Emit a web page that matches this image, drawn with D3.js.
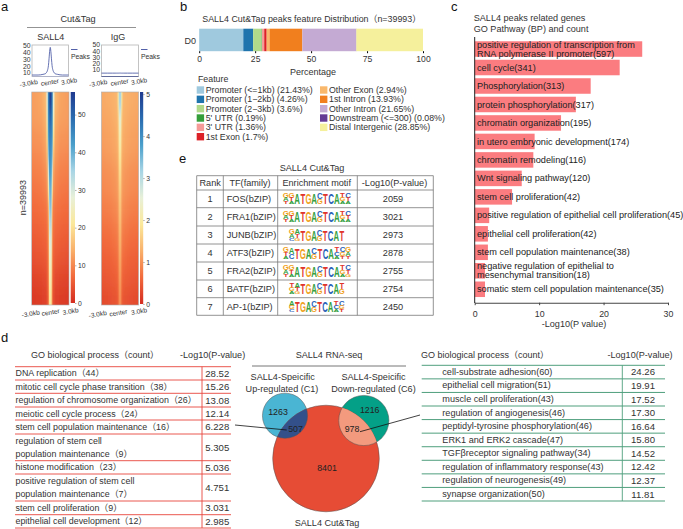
<!DOCTYPE html>
<html><head><meta charset="utf-8">
<script src="https://cdn.jsdelivr.net/npm/d3@7"></script>
<style>
html,body{margin:0;padding:0;background:#fff}
svg{display:block}
text{font-family:"Liberation Sans","Noto Sans CJK SC",sans-serif;fill:#333}
</style></head><body>
<svg id="c" width="683" height="529"></svg>
<script>
// ---------- panel a data
const heatKb = [3, 1.5, 0.8, 0.5, 0.3, 0.15, 0];
const sall4Heat = [
 [12,13,15,28,46,52,56],[12,12.5,14,25,44,48,50],[11,11.5,13,20,42,46,46],[10,10.5,12,16,38,44,44],
 [9,9.5,10.5,13,30,42,42],[8,8.5,9.5,11,22,38,40],[7,7.5,8,9,15,35,38],[6,6.5,7,8,13,31,33],
 [5,5.5,6,7,12,28,29],[4,4.5,5,6,11,25,26],[2.5,3,3.5,5,10,23,24],[1.5,2,2.5,4,9,20,22]];
const iggHeat = [
 [1.2,1.25,1.3,1.35,1.8,2.9,3.3],[1.15,1.2,1.25,1.3,1.5,2.3,2.6],[1.1,1.15,1.2,1.25,1.4,2,2.2],[1.05,1.1,1.15,1.2,1.3,1.8,2],
 [.95,1,1.05,1.1,1.2,1.65,1.8],[.9,.95,1,1.05,1.15,1.5,1.65],[.8,.85,.9,.95,1.05,1.4,1.5],[.7,.75,.8,.85,.95,1.3,1.4],
 [.6,.65,.7,.75,.85,1.2,1.3],[.5,.55,.6,.65,.75,1.1,1.2],[.42,.47,.5,.55,.65,1,1.1],[.32,.37,.4,.45,.55,.9,1]];
const heatColors = ["#d42c20","#f26a3c","#f9b06a","#fbe89a","#e8f0d8","#a8d5e5","#4a9fcb","#2a6cb0","#1f3a8f"];
const profileKb = [-3,-2,-1.2,-.8,-.6,-.45,-.3,-.2,-.1,0,.1,.2,.3,.45,.6,.8,1.2,2,3];
const sall4Profile = [7,7,8,9,11,14,21,31,42,48,42,31,21,14,11,9,8,7,7];
const iggProfile = [5,5,5,5,5,5,5,5,5,5.5,5,5,5,5,5,5,5,5,5];
const profileTicks = [10,20,30,40,50];
const sall4BarTicks = [0,10,20,30,40,50];
const iggBarTicks = [0,1,2,3,4,5];
// ---------- panel b data
const featureNames = ["Promoter (<=1kb) (21.43%)","Promoter (1−2kb) (4.26%)","Promoter (2−3kb) (3.6%)","5' UTR (0.19%)","3' UTR (1.36%)","1st Exon (1.7%)","Other Exon (2.94%)","1st Intron (13.93%)","Other Intron (21.65%)","Downstream (<=300) (0.08%)","Distal Intergenic (28.85%)"];
const featureDrawn = [19.7,4.4,3.8,0.15,1.0,1.1,1.25,14.7,24,0.1,29.8];
const featureColors = ["#9fc9de","#1f74ad","#b0d98a","#349e3a","#f59b98","#dc2127","#f9b86c","#f17f1e","#c4aad3","#653a94","#f5f09c"];
const pctTicks = [0,25,50,75,100];
// ---------- panel c data
const goNames = [["positive regulation of transcription from","RNA polymerase II promoter(597)"],["cell cycle(341)"],["Phosphorylation(313)"],["protein phosphorylation(317)"],["chromatin organization(195)"],["in utero embryonic development(174)"],["chromatin remodeling(116)"],["Wnt signaling pathway(120)"],["stem cell proliferation(42)"],["positive regulation of epithelial cell proliferation(45)"],["epithelial cell proliferation(42)"],["stem cell population maintenance(38)"],["negative regulation of epithelial to","mesenchymal transition(18)"],["somatic stem cell population maintenance(35)"]];
const goP = [26,22.5,18,15.7,13.4,9.3,9.1,7.3,5.8,2.25,2.05,2.05,1.6,1.6];
const goTicks = [0,10,20,30];
// ---------- panel d data
const upTerms = [["DNA replication（44）"],["mitotic cell cycle phase transition（38）"],["regulation of chromosome organization（26）"],["meiotic cell cycle process（24）"],["stem cell population maintenance（16）"],["regulation of stem cell","population maintenance（9）"],["histone modification（23）"],["positive regulation of stem cell","population maintenance（7）"],["stem cell proliferation（9）"],["epithelial cell development（12）"]];
const upVals = ["28.52","15.26","13.08","12.14","6.228","5.305","5.036","4.751","3.031","2.985"];
const downTerms = ["cell-substrate adhesion(60)","epithelial cell migration(51)","muscle cell proliferation(43)","regulation of angiogenesis(46)","peptidyl-tyrosine phosphorylation(46)","ERK1 and ERK2 cascade(47)","TGFβreceptor signaling pathway(34)","regulation of inflammatory response(43)","regulation of neurogenesis(49)","synapse organization(50)"];
const downVals = ["24.26","19.91","17.52","17.30","16.64","15.80","14.52","12.42","12.37","11.81"];
const vennCounts = {upOnly:1263, upShared:507, downOnly:1216, downShared:978, tagOnly:8401};
// ---------- panel e data
const tfRank = [1,2,3,4,5,6,7];
const tfNames = ["FOS(bZIP)","FRA1(bZIP)","JUNB(bZIP)","ATF3(bZIP)","FRA2(bZIP)","BATF(bZIP)","AP-1(bZIP)"];
const tfP = [2059,3021,2973,2878,2755,2754,2450];
const tfMotifs = [
 ["GAT","GTA","A","T","G","A","CG","T","C","A","TGA","CTA"],
 ["GAT","GTA","A","T","G","A","CG","T","C","A","TGA","CTA"],
 ["GAC","ATG","T","G","A","CG","T","C","A","T"],
 ["GTA","AC","T","G","A","CG","T","C","A","TCA","CGT","GAT"],
 ["GAT","GTA","A","T","G","A","CG","T","C","A","TGA","CTG"],
 ["TGA","ATG","T","G","A","CG","T","C","A","TG"],
 ["AGC","T","G","A","CG","T","C","A","TCA","CGT"]];
const baseColors = {A:"#35a041",C:"#2a62b8",G:"#f0a21e",T:"#e0352b"};

const svg = d3.select("#c"), defs = svg.append("defs");
function label(s,x,y,size,opts={}){
  const t = s.append("text").attr("x",x).attr("y",y).attr("font-size",size).text(opts.text);
  if(opts.anchor) t.attr("text-anchor",opts.anchor);
  if(opts.rotate!==undefined) t.attr("transform",`rotate(${opts.rotate},${x},${y})`);
  if(opts.fill) t.style("fill",opts.fill);
  if(opts.weight) t.attr("font-weight",opts.weight);
  return t;
}
const letters = [["a",1,11],["b",180,11],["c",451,11],["d",1,342],["e",179,163]];
letters.forEach(l=>label(svg,l[1],l[2],13,{text:l[0],fill:"#111"}));

// ========== PANEL A
label(svg,78,22,9.2,{text:"Cut&Tag",anchor:"middle"});
svg.append("line").attr("x1",27).attr("x2",136).attr("y1",27.5).attr("y2",27.5).attr("stroke","#777").attr("stroke-width",.8);
label(svg,50.7,40,9,{text:"SALL4",anchor:"middle"});
label(svg,118,40,9,{text:"IgG",anchor:"middle"});
label(svg,26,197.7,9,{text:"n=39993",anchor:"middle",rotate:-90});

function profile(x0,x1,vals,y10,y50){
  const g = svg.append("g");
  const xS = d3.scaleLinear().domain([-3,3]).range([x0,x1]);
  const yS = d3.scaleLinear().domain([10,50]).range([y10,y50]);
  g.append("rect").attr("x",x0).attr("y",45).attr("width",x1-x0).attr("height",31.5).attr("fill","#fff").attr("stroke","#b5b5b5").attr("stroke-width",.8);
  g.append("path").datum(vals).attr("fill","none").attr("stroke","#3f4f9f").attr("stroke-width",.8)
    .attr("d",d3.line().x((d,i)=>xS(profileKb[i])).y(d=>yS(d)).curve(d3.curveMonotoneX));
  g.append("line").attr("x1",x0).attr("x2",x1).attr("y1",76.5).attr("y2",76.5).attr("stroke",x0>100?"#4a5590":"#a9aec9").attr("stroke-width",.8);
  profileTicks.forEach(t=>label(g,x0-1.5,yS(t)+2.4,6.8,{text:t,anchor:"end"}));
  g.append("line").attr("x1",x1+2.5).attr("x2",x1+9).attr("y1",49.5).attr("y2",49.5).attr("stroke","#3f4f9f").attr("stroke-width",.9);
  label(g,x1+2.5,58.5,6.8,{text:"Peaks"});
  [["-3.0kb",x0-3,85.5],["center",(x0+x1)/2,84.5],["3.0kb",x1+1,83.5]].forEach(l=>label(g,l[1],l[2],6.6,{text:l[0],anchor:"middle",rotate:-10}));
}
profile(32,68.5,sall4Profile,73,46);
profile(101.5,138.5,iggProfile,70,45);

const blur = defs.append("filter").attr("id","vblur").attr("x","-5%").attr("width","110%").attr("y","-20%").attr("height","140%");
blur.append("feGaussianBlur").attr("stdDeviation","0.2 7");

function heatmap(id,x0,x1,matrix,maxV,barX,barW,ticks,y0v,labelsY){
  const y0=92, y1=305;
  const color = d3.scaleLinear().domain(heatColors.map((c,i)=>maxV*i/(heatColors.length-1))).range(heatColors).interpolate(d3.interpolateRgb).clamp(true);
  const xS = d3.scaleLinear().domain([-3,3]).range([0,100]);
  const rowY = d3.scaleBand().domain(d3.range(matrix.length)).range([y0,y1]);
  defs.append("clipPath").attr("id",id+"clip").append("rect").attr("x",x0).attr("y",y0).attr("width",x1-x0).attr("height",y1-y0);
  const gr = svg.append("g").attr("clip-path",`url(#${id}clip)`).append("g").attr("filter","url(#vblur)");
  matrix.forEach((row,ri)=>{
    const lg = defs.append("linearGradient").attr("id",`${id}r${ri}`);
    row.forEach((v,j)=>lg.append("stop").attr("offset",xS(-heatKb[j])+"%").attr("stop-color",color(v)));
    row.slice(0,-1).reverse().forEach((v,j)=>lg.append("stop").attr("offset",xS(heatKb[row.length-2-j])+"%").attr("stop-color",color(v)));
    const ext = ri===0?30:0, extB = ri===matrix.length-1?30:0;
    gr.append("rect").attr("x",x0).attr("width",x1-x0).attr("y",rowY(ri)-ext).attr("height",rowY.bandwidth()+ext+extB+.5).attr("fill",`url(#${id}r${ri})`);
  });
  svg.append("rect").attr("x",x0).attr("y",y0).attr("width",x1-x0).attr("height",y1-y0).attr("fill","none").attr("stroke","#aaa").attr("stroke-width",.6);
  // colour bar
  const yBar = d3.scaleLinear().domain([0,maxV]).range([y0v,y0]);
  const cg = defs.append("linearGradient").attr("id",id+"bar").attr("x1",0).attr("x2",0).attr("y1",1).attr("y2",0);
  heatColors.forEach((c,i)=>cg.append("stop").attr("offset",i/(heatColors.length-1)*100+"%").attr("stop-color",c));
  svg.append("rect").attr("x",barX).attr("y",y0).attr("width",barW).attr("height",y0v-y0).attr("fill",`url(#${id}bar)`);
  const ax = svg.append("g").attr("transform",`translate(${barX+barW},0)`)
    .call(d3.axisRight(yBar).tickValues(ticks).tickSize(1.5).tickPadding(1.5).tickFormat(d3.format("d")));
  ax.select(".domain").remove();
  ax.selectAll("text").attr("font-size",6.8).style("font-family","Liberation Sans").style("fill","#333");
  ax.selectAll("line").attr("stroke","#666").attr("stroke-width",.5);
  labelsY.forEach(l=>label(svg,l[1],l[2],6.6,{text:l[0],anchor:"middle",rotate:-10}));
}
heatmap("s",31.7,69,sall4Heat,56,70.7,4.3,sall4BarTicks,303,[["-3.0kb",31,316],["center",51,314.5],["3.0kb",71,313.5]]);
heatmap("i",101.3,138.7,iggHeat,5.05,140,3.2,iggBarTicks,304,[["-3.0kb",98,316.5],["center",118.7,315],["3.0kb",139.5,313.5]]);

// ========== PANEL B
label(svg,311.7,22,8.9,{text:"SALL4 Cut&Tag peaks feature Distribution（n=39993）",anchor:"middle"});
const xPct = d3.scaleLinear().domain([0,100]).range([199.2,423]);
const cum = d3.cumsum(featureDrawn);
svg.append("g").selectAll("rect").data(featureDrawn).join("rect")
  .attr("x",(d,i)=>xPct(cum[i]-d)).attr("width",d=>xPct(d)-xPct(0)).attr("y",28.7).attr("height",22.5).attr("fill",(d,i)=>featureColors[i]);
label(svg,196,44,9,{text:"D0",anchor:"end"});
const bAx = svg.append("g").attr("transform","translate(0,51.2)").call(d3.axisBottom(xPct).tickValues(pctTicks).tickSize(2).tickPadding(3));
bAx.select(".domain").remove();
bAx.selectAll("text").attr("font-size",8.6).style("font-family","Liberation Sans").style("fill","#333");
label(svg,313,75,9,{text:"Percentage",anchor:"middle"});
label(svg,198,82,8.8,{text:"Feature"});
const legendYs = d3.scaleLinear().domain([0,5]).range([90,136.7]);
featureNames.forEach((n,i)=>{
  const col = i>5?1:0, r = i>5?i-6:i;
  const sx = col?320:196.7;
  svg.append("rect").attr("x",sx).attr("y",legendYs(r)-3.7).attr("width",7.4).attr("height",7.4).attr("fill",featureColors[i]);
  label(svg,sx+9,legendYs(r)+3,8.8,{text:n});
});

// ========== PANEL C
label(svg,473.7,21,9.1,{text:"SALL4 peaks related genes"});
label(svg,473.7,32,9.1,{text:"GO Pathway (BP) and count"});
const xGo = d3.scaleLinear().domain([0,30]).range([474.7,668]);
const yGo = d3.scaleBand().domain(d3.range(goP.length)).range([39.8,298.5]).paddingInner(.16).paddingOuter(.08);
svg.append("g").selectAll("rect").data(goP).join("rect").attr("x",xGo(0)).attr("width",d=>xGo(d)-xGo(0))
  .attr("y",(d,i)=>yGo(i)).attr("height",yGo.bandwidth()).attr("fill","#fb7c80");
goNames.forEach((ls,i)=>{
  const cy = yGo(i)+yGo.bandwidth()/2;
  ls.forEach((s,j)=>label(svg,477,cy+3.1+(j-(ls.length-1)/2)*9,9.2,{text:s,fill:"#222"}));
});
const cAx = svg.append("g").attr("transform","translate(0,302.7)").call(d3.axisBottom(xGo).tickValues(goTicks).tickSize(2.5).tickSizeOuter(0).tickPadding(6));
cAx.select(".domain").attr("stroke","#444").attr("stroke-width",1.1);
cAx.selectAll("line").attr("stroke","#444");
cAx.selectAll("text").attr("font-size",8.8).style("font-family","Liberation Sans").style("fill","#333");
svg.append("line").attr("x1",xGo(0)).attr("x2",xGo(0)).attr("y1",37).attr("y2",303).attr("stroke","#222").attr("stroke-width",1);
label(svg,574,327,9.1,{text:"-Log10(P value)",anchor:"middle"});

// ========== PANEL D left
const RED="#e8453c", GREEN="#4f9f7d";
label(svg,31,358,9,{text:"GO biological process（count）"});
label(svg,180,358,9.1,{text:"-Log10(P-value)"});
const upLines = [366.7,380,393.3,407,420,434,460.7,474,501,514.7,528];
upLines.forEach(y=>svg.append("line").attr("x1",15).attr("x2",231).attr("y1",y).attr("y2",y).attr("stroke",RED).attr("stroke-width",.9));
svg.append("line").attr("x1",202).attr("x2",202).attr("y1",366.7).attr("y2",528).attr("stroke",RED).attr("stroke-width",.9);
upTerms.forEach((ls,i)=>{
  const top = upLines[i], bot = upLines[i+1], cy=(top+bot)/2;
  ls.forEach((s,j)=>label(svg,15.5,cy+3+(j-(ls.length-1)/2)*13.3,8.9,{text:s}));
  label(svg,217.3,cy+3.4,9.6,{text:upVals[i],anchor:"middle"});
});

// ========== Venn
label(svg,329,358,9.1,{text:"SALL4 RNA-seq",anchor:"middle"});
svg.append("line").attr("x1",252).attr("x2",406).attr("y1",366).attr("y2",366).attr("stroke","#777").attr("stroke-width",1);
[["SALL4-Speicific",282.7,380],["Up-regulated (C1)",282,391.5],["SALL4-Speicific",373.5,380],["Down-regulated (C6)",373.5,391.5]].forEach(l=>label(svg,l[1],l[2],9.1,{text:l[0],anchor:"middle"}));
const vc = vennCounts;
const rS = d3.scaleSqrt().domain([0,vc.tagOnly+vc.upShared+vc.downShared]).range([0,53.3]);
const vennTag = {cx:326,cy:458.5,r:rS(vc.tagOnly+vc.upShared+vc.downShared)};
const vennUp = {cx:285,cy:415.7,r:rS(vc.upOnly+vc.upShared)};
const vennDown = {cx:363.8,cy:420.5,r:rS(vc.downOnly+vc.downShared)};
defs.append("clipPath").attr("id","tagClip").append("circle").attr("cx",vennTag.cx).attr("cy",vennTag.cy).attr("r",vennTag.r);
const stroke = c=>c.attr("stroke","#555").attr("stroke-width",.5);
const circ = (d,fill,clip)=>{const c=svg.append("circle").attr("cx",d.cx).attr("cy",d.cy).attr("r",d.r).attr("fill",fill);if(clip)c.attr("clip-path","url(#tagClip)");return stroke(c);};
circ(vennUp,"#4ab5d3");circ(vennDown,"#04a087");circ(vennTag,"#e64c35");
circ(vennUp,"#33508a",true);circ(vennDown,"#f39a7e",true);
[[vc.upOnly,278,415],[vc.upShared,295.5,432],[vc.downOnly,369.7,413],[vc.downShared,352,432],[vc.tagOnly,327,471]].forEach(l=>label(svg,l[1],l[2],8.8,{text:l[0],anchor:"middle",fill:"#222"}));
label(svg,327,526,9.1,{text:"SALL4 Cut&Tag",anchor:"middle"});
svg.append("line").attr("x1",235).attr("y1",425).attr("x2",286.7).attr("y2",430).attr("stroke","#111").attr("stroke-width",.8);
svg.append("line").attr("x1",420).attr("y1",415).attr("x2",360).attr("y2",431.7).attr("stroke","#111").attr("stroke-width",.8);

// ========== PANEL D right
label(svg,421,357.5,9,{text:"GO biological process（count）"});
label(svg,640,357.5,9.1,{text:"-Log10(P-value)",anchor:"middle"});
const yDown = d3.scaleBand().domain(d3.range(downTerms.length)).range([365.3,501]);
d3.range(downTerms.length+1).forEach(i=>{
  const y = 365.3+i*yDown.bandwidth();
  svg.append("line").attr("x1",421.7).attr("x2",665).attr("y1",y).attr("y2",y).attr("stroke",GREEN).attr("stroke-width",1);
});
svg.append("line").attr("x1",622.3).attr("x2",622.3).attr("y1",365.3).attr("y2",501).attr("stroke",GREEN).attr("stroke-width",.9);
downTerms.forEach((s,i)=>{
  const cy=yDown(i)+yDown.bandwidth()/2;
  label(svg,442.3,cy+2.8,9.15,{text:s});
  label(svg,643,cy+3.4,9.6,{text:downVals[i],anchor:"middle"});
});

// ========== PANEL E
label(svg,312,171,9.1,{text:"SALL4 Cut&Tag",anchor:"middle"});
const eCols = [196.7,223.3,277.7,357.3,433.3];
const eRows = [175.7,190,207.7,226,244,262,280,297.7,315.3];
eRows.forEach(y=>svg.append("line").attr("x1",eCols[0]).attr("x2",eCols[4]).attr("y1",y).attr("y2",y).attr("stroke","#777").attr("stroke-width",.8));
eCols.forEach(x=>svg.append("line").attr("x1",x).attr("x2",x).attr("y1",eRows[0]).attr("y2",eRows[8]).attr("stroke","#777").attr("stroke-width",.8));
[["Rank",210.2],["TF(family)",250],["Enrichment motif",316.7],["-Log10(P-value)",394.5]].forEach(h=>label(svg,h[1],186,9.15,{text:h[0],anchor:"middle"}));
const logoSpan = [[283,351],[283,351],[289,344.5],[283,351],[283,351],[289,344.5],[289,344.5]];
tfRank.forEach((r,i)=>{
  const cy=(eRows[i+1]+eRows[i+2])/2;
  label(svg,210,cy+3.2,9.2,{text:r,anchor:"middle"});
  label(svg,226.7,cy+3.2,9.2,{text:tfNames[i]});
  label(svg,393,cy+3.2,9.2,{text:tfP[i],anchor:"middle"});
  const band = d3.scaleBand().domain(d3.range(tfMotifs[i].length)).range(logoSpan[i]);
  const H = 11, top = cy-H/2;
  tfMotifs[i].forEach((stack,p)=>{
    const hs = stack.length===1?[1]:stack.length===2?[.55,.45]:[.42,.32,.26];
    let yy = top;
    stack.split("").forEach((ch,k)=>{
      const h = hs[k]*H;
      const w = band.bandwidth();
      svg.append("text").text(ch)
        .attr("transform",`translate(${band(p)+w/2},${yy+h}) scale(${w/7.2},${h/7.2})`)
        .attr("text-anchor","middle").attr("font-size",10).attr("font-weight","bold")
        .style("fill",baseColors[ch]);
      yy += h;
    });
  });
});
</script>
</body></html>
